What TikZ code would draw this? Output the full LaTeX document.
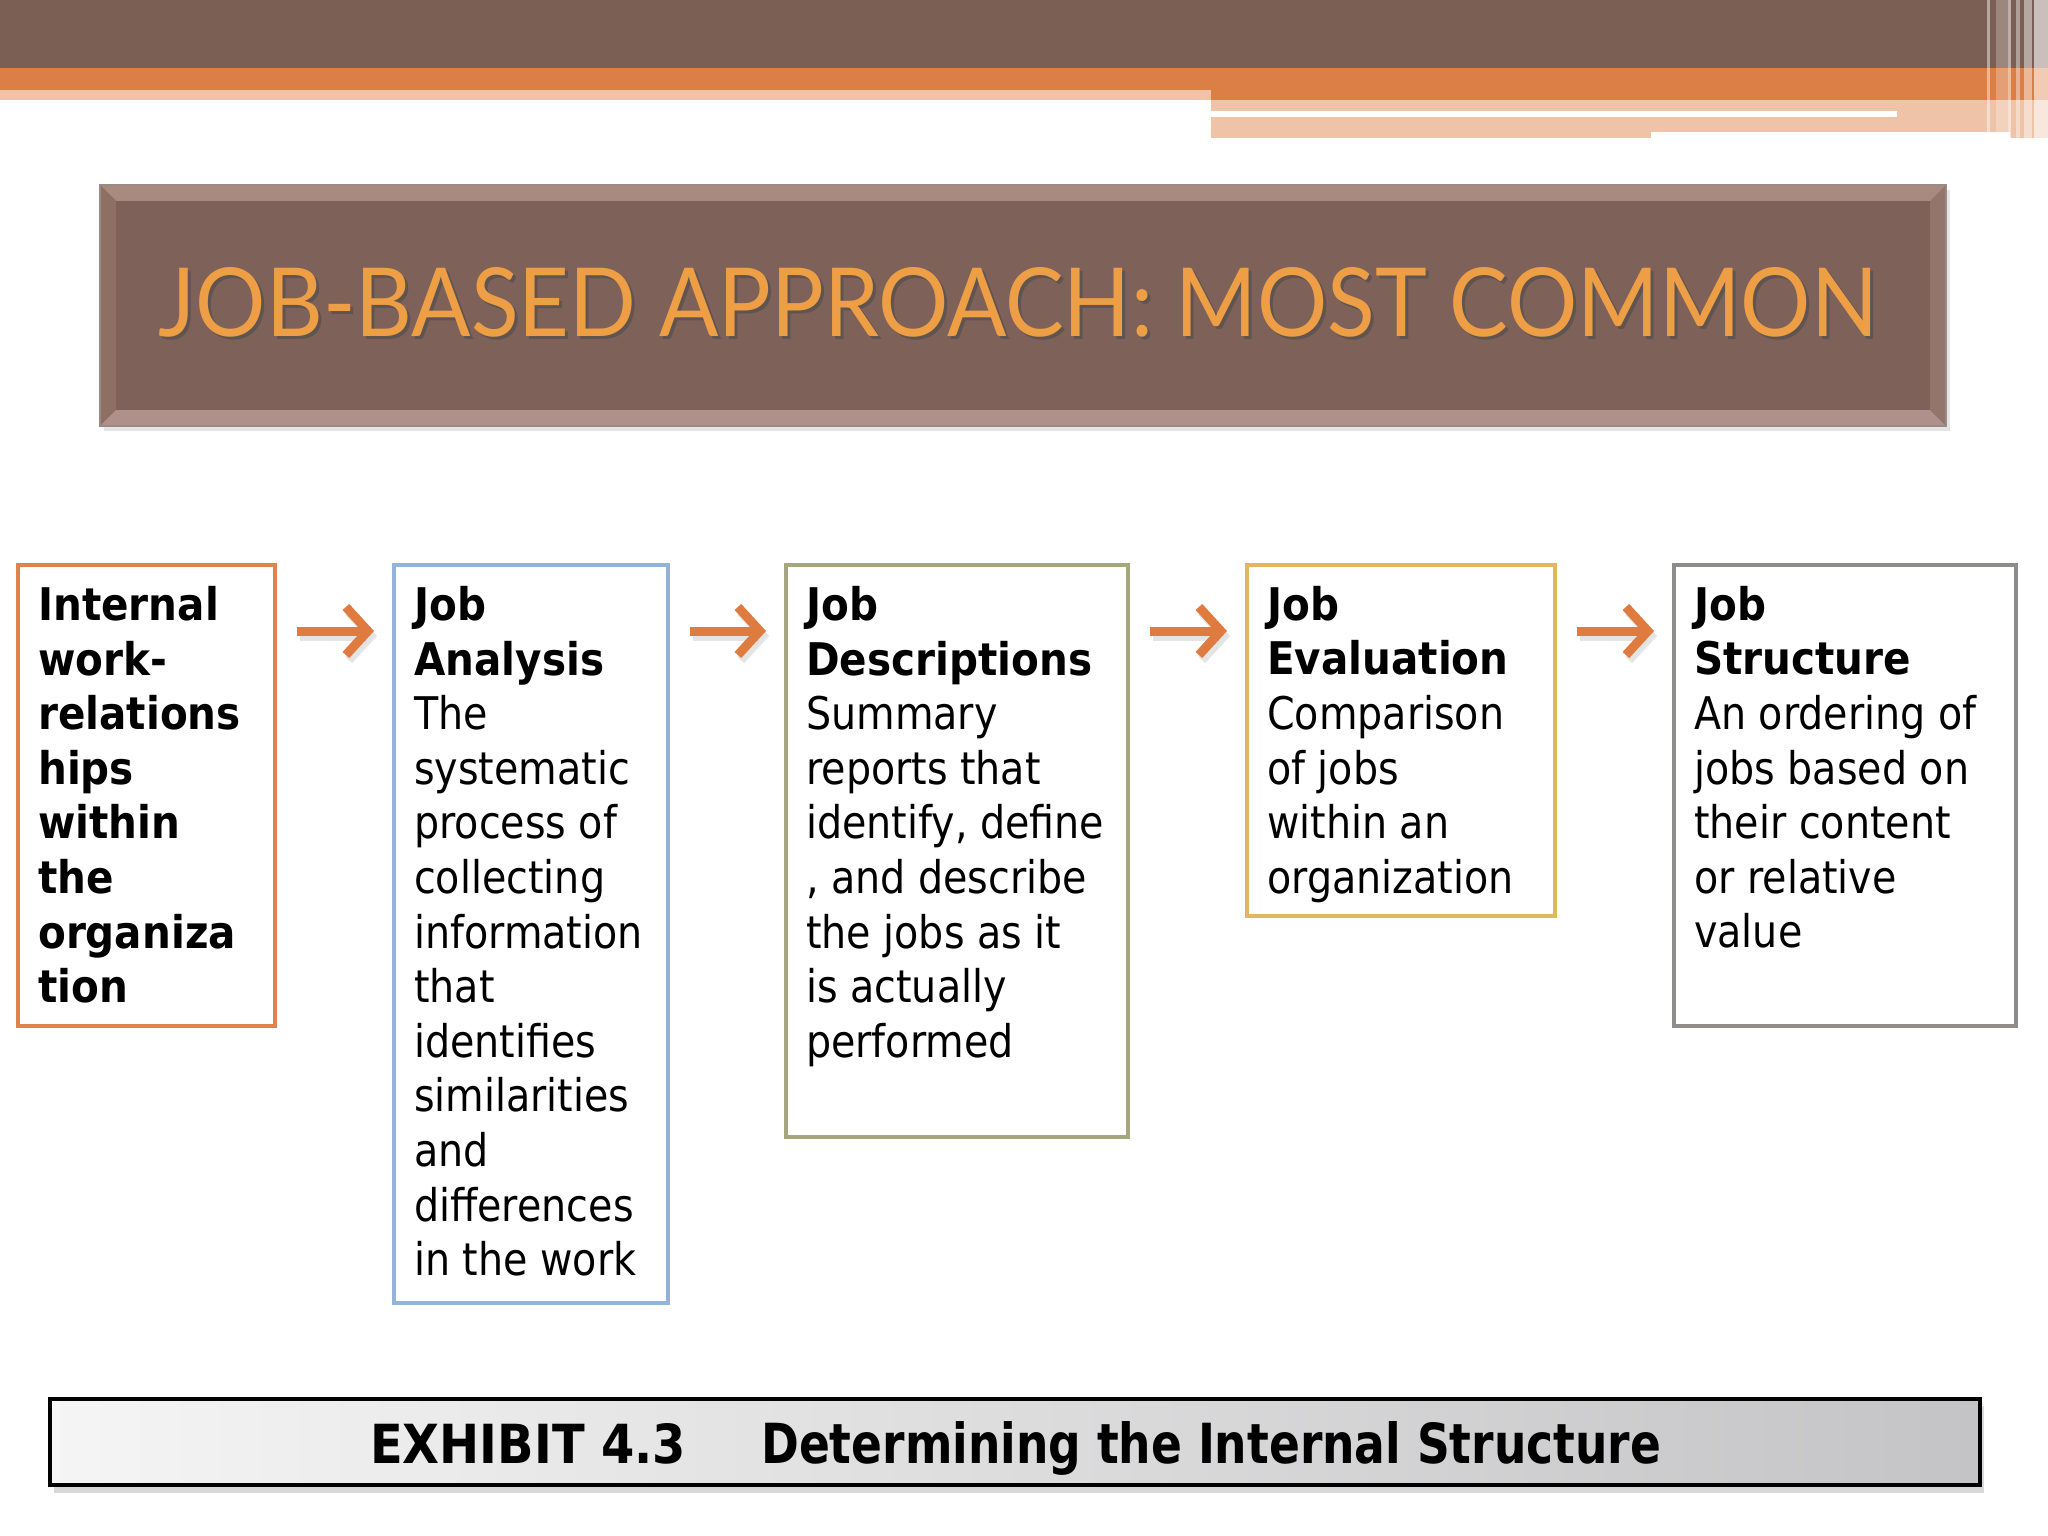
\documentclass[tikz,border=0pt]{standalone}
\usepackage{fontspec}
\usepackage{graphicx}
\usetikzlibrary{arrows.meta,calc}
\newfontfamily\tah[FakeStretch=0.88,BoldFeatures={FakeStretch=0.9}]{DejaVu Sans}
\newfontfamily\titlefont{Lato}
\newfontfamily\capfont{DejaVu Sans}
\definecolor{bandbrown}{HTML}{7B5F55}
\definecolor{bandorange}{HTML}{DC7F46}
\definecolor{bandpale}{HTML}{EEC3A8}
\definecolor{titlefill}{HTML}{7E6259}
\definecolor{titleedge}{HTML}{A3857A}
\definecolor{bevtop}{HTML}{A98A7F}
\definecolor{bevleft}{HTML}{8F6F64}
\definecolor{bevbot}{HTML}{B0908A}
\definecolor{bevright}{HTML}{93756B}
\definecolor{titleborder}{HTML}{9A8A86}
\definecolor{titletext}{HTML}{EE9E45}
\definecolor{arrcol}{HTML}{E07B40}
\definecolor{capgray}{HTML}{C4C4C6}
\definecolor{cA}{HTML}{E0834A}
\definecolor{cB}{HTML}{95B3D7}
\definecolor{cC}{HTML}{A5A87E}
\definecolor{cD}{HTML}{E3B75E}
\definecolor{cE}{HTML}{8F8C8C}
\tikzset{
  boxnode/.style={draw, line width=3.5pt, fill=white, rectangle, inner sep=0pt, anchor=north west},
  txt/.style={anchor=north west, inner sep=0pt, align=left, font=\tah\fontsize{45}{54.6}\selectfont, text=black},
  arr/.style={draw=arrcol, line width=9pt, -{Straight Barb[length=22pt,width=48pt]}, shorten <=20pt, shorten >=18pt},
  arrshadow/.style={draw=black!35, opacity=0.3, line width=9pt, -{Straight Barb[length=22pt,width=48pt]}, shorten <=20pt, shorten >=18pt},
}
\begin{document}
\begin{tikzpicture}[x=1pt,y=-1pt]
\useasboundingbox (0,0) rectangle (2048,1536);
\fill[white] (0,0) rectangle (2048,1536);
% top band
\fill[bandbrown] (0,0) rectangle (2048,68);
\fill[bandorange] (0,68) rectangle (2048,90);
\fill[bandorange] (1211,90) rectangle (2048,100);
\fill[bandpale] (0,90) rectangle (1211,100);
\fill[bandpale] (1211,100) rectangle (2048,132);
\fill[bandpale] (1211,132) rectangle (1651,138);
\fill[bandpale] (2010,132) rectangle (2048,138);
\fill[white] (1211,111) rectangle (1897,117);
% right stripes
\fill[white,opacity=0.45] (1987,0) rectangle (1990,132);
\fill[white,opacity=0.25] (1996,0) rectangle (2008,132);
\fill[white,opacity=0.5] (2008,0) rectangle (2011,138);
\fill[white,opacity=0.4] (2016,0) rectangle (2020,138);
\fill[white,opacity=0.45] (2024,0) rectangle (2032,138);
\fill[white,opacity=0.6] (2034,0) rectangle (2048,138);
% title box
\fill[black!20,opacity=0.5] (104,190) rectangle (1950,431);
\fill[titleedge] (100,185) rectangle (1946,426);
\fill[bevtop] (100,185) -- (1946,185) -- (1930,201) -- (116,201) -- cycle;
\fill[bevleft] (100,185) -- (116,201) -- (116,410) -- (100,426) -- cycle;
\fill[bevbot] (100,426) -- (116,410) -- (1930,410) -- (1946,426) -- cycle;
\fill[bevright] (1946,185) -- (1930,201) -- (1930,410) -- (1946,426) -- cycle;
\fill[titlefill] (116,201) rectangle (1930,410);
\draw[titleborder, line width=2pt] (100,185) rectangle (1946,426);
\node[text=black!70, opacity=0.6] (titleshadow) at (1021,305) {\resizebox{1718pt}{69pt}{\titlefont JOB-BASED APPROACH: MOST COMMON}};
\node[text=titletext] (title) at (1018,302) {\resizebox{1718pt}{69pt}{\titlefont JOB-BASED APPROACH: MOST COMMON}};
% boxes
\node[boxnode, draw=cA, minimum width=257pt, minimum height=461pt] (b1) at (16,563) {};
\node[boxnode, draw=cB, minimum width=274pt, minimum height=738pt] (b2) at (392,563) {};
\node[boxnode, draw=cC, minimum width=342pt, minimum height=572pt] (b3) at (784,563) {};
\node[boxnode, draw=cD, minimum width=308pt, minimum height=351pt] (b4) at (1245,563) {};
\node[boxnode, draw=cE, minimum width=342pt, minimum height=461pt] (b5) at (1672,563) {};
\node[txt] (t1) at ($(b1.north west)+(22,23)$) {\bfseries Internal\\\bfseries work-\\\bfseries relations\\\bfseries hips\\\bfseries within\\\bfseries the\\\bfseries organiza\\\bfseries tion};
\node[txt] (t2) at ($(b2.north west)+(22,23)$) {\textbf{Job}\\\textbf{Analysis}\\The\\systematic\\process of\\collecting\\information\\that\\identifies\\similarities\\and\\differences\\in the work};
\node[txt] (t3) at ($(b3.north west)+(22,23)$) {\textbf{Job}\\\textbf{Descriptions}\\Summary\\reports that\\identify, define\\, and describe\\the jobs as it\\is actually\\performed};
\node[txt] (t4) at ($(b4.north west)+(22,23)$) {\textbf{Job}\\\textbf{Evaluation}\\Comparison\\of jobs\\within an\\organization};
\node[txt] (t5) at ($(b5.north west)+(22,23)$) {\textbf{Job}\\\textbf{Structure}\\An ordering of\\jobs based on\\their content\\or relative\\value};
% arrows
\coordinate (ay) at (0,631);
\coordinate (ays) at (0,636);
\foreach \a/\b in {b1/b2,b2/b3,b3/b4,b4/b5}{
  \draw[arrshadow] ($(\a.east |- ays)+(3,0)$) -- ($(\b.west |- ays)+(3,0)$);
  \draw[arr] (\a.east |- ay) -- (\b.west |- ay);
}
% caption bar
\fill[black!30,opacity=0.5] (54,1406) rectangle (1984,1493);
\shade[left color=white!96!black, right color=capgray] (50,1399) rectangle (1980,1485);
\draw[black, line width=4pt] (50,1399) rectangle (1980,1485);
\node[anchor=base west, inner sep=0pt] (cap1) at (370,1463) {\resizebox{316pt}{40pt}{\capfont\bfseries EXHIBIT 4.3}};
\node[anchor=base west, inner sep=0pt] (cap2) at (761,1463) {\resizebox{900pt}{42pt}{\capfont\bfseries Determining the Internal Structure}};
\end{tikzpicture}
\end{document}
